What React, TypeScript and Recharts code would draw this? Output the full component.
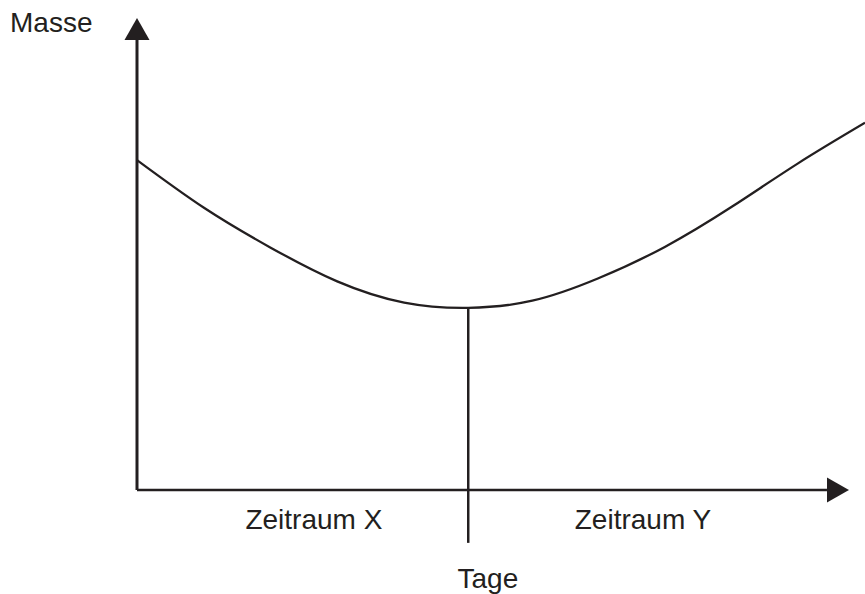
import React from "react";
import {
  LineChart,
  Line,
  XAxis,
  YAxis,
  ReferenceLine,
} from "recharts";

const days = [0, 9.2, 18.3, 27.5, 36.7, 45.5, 54.3, 63.3, 72.5, 81.7, 90.8, 100];
const masse = [69.9, 59.8, 51.4, 44.2, 39.7, 38.6, 40.1, 44.8, 51.5, 60.0, 69.2, 77.8];

const periodTicks = [24.3, 69.5];
const periodLabels = ["Zeitraum X", "Zeitraum Y"];

const minDay = 45.5;
const minMasse = 38.6;
const xAxisEnd = 97.8;

const INK = "#231f20";
const FONT = "'Liberation Sans', Arial, sans-serif";

const data = days.map((d, i) => ({ tag: d, masse: masse[i] }));

// Linie mit Pfeilspitze am Ende (x2, y2)
function ArrowLine(props: any) {
  const { x1, y1, x2, y2, strokeWidth } = props;
  const len = Math.hypot(x2 - x1, y2 - y1) || 1;
  const ux = (x2 - x1) / len;
  const uy = (y2 - y1) / len;
  const head = 22;
  const half = 12.5;
  const bx = x2 - ux * head;
  const by = y2 - uy * head;
  const pts = [
    `${x2},${y2}`,
    `${bx - uy * half},${by + ux * half}`,
    `${bx + uy * half},${by - ux * half}`,
  ].join(" ");
  return (
    <g>
      <line x1={x1} y1={y1} x2={bx} y2={by} stroke={INK} strokeWidth={strokeWidth} />
      <polygon points={pts} fill={INK} />
    </g>
  );
}

function PeriodTick(props: any) {
  const { x, index } = props;
  return (
    <text x={x} y={529} textAnchor="middle" fontSize={28} fontFamily={FONT} fill={INK}>
      {periodLabels[index]}
    </text>
  );
}

export default function App() {
  return (
    <div style={{ position: "absolute", left: 0, top: 0, background: "#fff" }}>
      <LineChart
        width={865}
        height={594}
        data={data}
        margin={{ top: 18, right: 0, left: 0, bottom: 0 }}
      >
        <XAxis
          dataKey="tag"
          type="number"
          domain={[0, 100]}
          ticks={periodTicks}
          tick={<PeriodTick />}
          axisLine={false}
          tickLine={false}
          height={104}
          label={{
            content: ({ viewBox }: any) => (
              <text
                x={viewBox.x + viewBox.width * 0.482}
                y={588}
                textAnchor="middle"
                fontSize={28}
                fontFamily={FONT}
                fill={INK}
              >
                Tage
              </text>
            ),
          }}
        />
        <YAxis
          type="number"
          domain={[0, 100]}
          width={137}
          axisLine={false}
          tickLine={false}
          tick={false}
          label={{
            content: () => (
              <text x={10} y={32} fontSize={28} fontFamily={FONT} fill={INK}>
                Masse
              </text>
            ),
          }}
        />
        <ReferenceLine
          segment={[{ x: minDay, y: minMasse }, { x: minDay, y: -11.2 }]}
          stroke={INK}
          strokeWidth={2.5}
          ifOverflow="visible"
        />
        <ReferenceLine
          segment={[{ x: 0, y: 0 }, { x: 0, y: 100 }]}
          shape={ArrowLine}
          strokeWidth={3}
          ifOverflow="visible"
        />
        <ReferenceLine
          segment={[{ x: 0, y: 0 }, { x: xAxisEnd, y: 0 }]}
          shape={ArrowLine}
          strokeWidth={2.6}
          ifOverflow="visible"
        />
        <Line
          type="natural"
          dataKey="masse"
          stroke={INK}
          strokeWidth={2.3}
          dot={false}
          activeDot={false}
          isAnimationActive={false}
        />
      </LineChart>
    </div>
  );
}
